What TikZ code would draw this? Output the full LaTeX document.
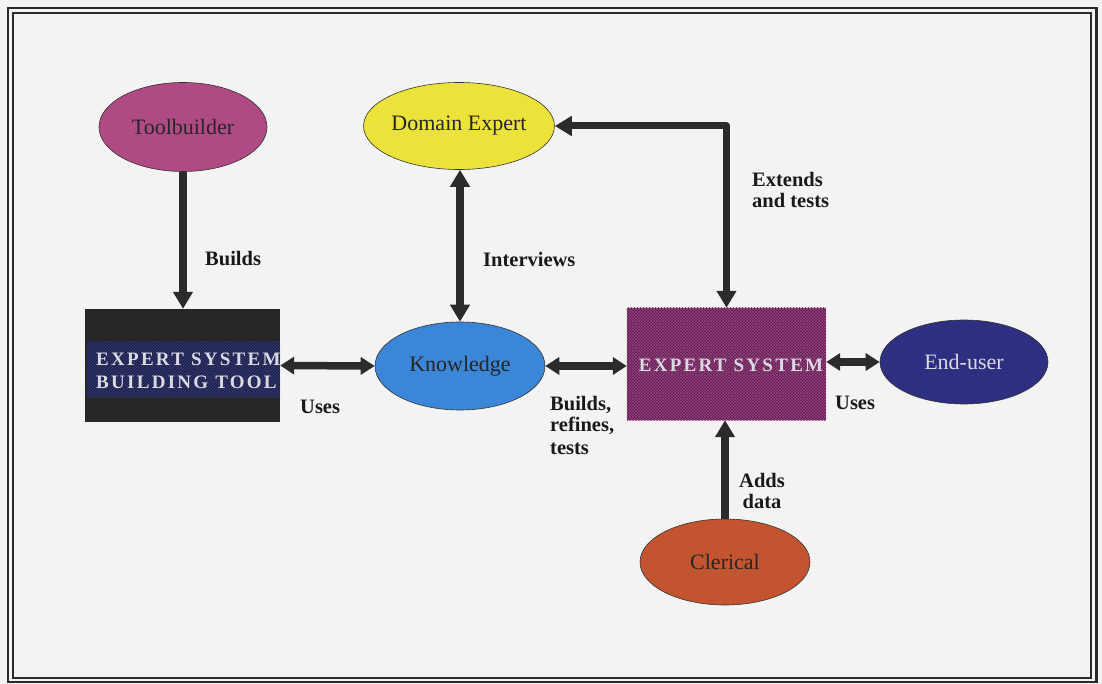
\documentclass[tikz,border=0pt]{standalone}
\usepackage{fontspec}
\setmainfont{Liberation Serif}
\newfontfamily\capsfont[LetterSpace=12]{Liberation Serif}
\usetikzlibrary{arrows.meta,shapes.geometric,patterns}

\definecolor{paper}{HTML}{F3F3F3}
\definecolor{framecol}{HTML}{2A2A2A}
\definecolor{linkcol}{HTML}{2B2B2B}
\definecolor{toolcol}{HTML}{B04A84}
\definecolor{domcol}{HTML}{ECE33A}
\definecolor{knowcol}{HTML}{3B86D6}
\definecolor{endcol}{HTML}{2E2F80}
\definecolor{clercol}{HTML}{C2552F}
\definecolor{esbtcol}{HTML}{262626}
\definecolor{esbtband}{HTML}{1E2150}
\definecolor{esbtstripe}{HTML}{3C4274}
\definecolor{escol}{HTML}{5A1C4A}
\definecolor{esstripe}{HTML}{9A4484}
\definecolor{boxtext}{HTML}{DADAE2}

\tikzset{
  role/.style={ellipse, draw=black!80, line width=0.6pt, minimum width=168pt,
    minimum height=88pt, inner sep=0pt, text=black!85,
    font=\fontsize{22}{24}\selectfont},
  toolbox/.style={rectangle, inner sep=0pt, text=boxtext, align=left,
    font=\capsfont\bfseries\fontsize{19}{23}\selectfont},
  label/.style={font=\bfseries\fontsize{20.5}{21}\selectfont, text=black!90,
    inner sep=0pt, align=left},
  link/.style={line width=7.5pt, draw=linkcol, -{Triangle[length=17pt,width=19pt]}},
  both/.style={line width=7.5pt, draw=linkcol,
    {Triangle[length=17pt,width=19pt]}-{Triangle[length=17pt,width=19pt]}},
  bothshort/.style={line width=7.5pt, draw=linkcol,
    {Triangle[length=14pt,width=17pt]}-{Triangle[length=14pt,width=17pt]}}
}

\begin{document}
\begin{tikzpicture}[x=1pt,y=-1pt]
  % page and frame
  \fill[paper] (0,0) rectangle (1102,684);
  \useasboundingbox (0,0) rectangle (1102,684);
  \draw[framecol, line width=2.8pt] (8,8) rectangle (1096.5,682);
  \draw[framecol, line width=1.1pt] (13,13) rectangle (1091,678);

  % people
  \node[role, fill=toolcol, minimum height=89pt] (tool) at (183,127) {Toolbuilder};
  \node[role, fill=domcol, minimum height=87pt] (dom) at (459,126) {Domain Expert};
  \node[role, fill=knowcol, minimum width=170pt] (know) at (460,366) {Knowledge};
  \node[role, fill=endcol, text=boxtext, minimum height=84pt] (end) at (964,362) {End-user};
  \node[role, fill=clercol, minimum width=170pt, minimum height=86pt] (cler) at (725,562) {Clerical};

  % building tool box with its hatched band
  \node[toolbox, fill=esbtcol, minimum width=195pt, minimum height=113pt] (esbt) at (182.5,365.5) {};
  \fill[esbtband] (87,341) rectangle (280,397);
  \fill[pattern=north east lines, pattern color=esbtstripe] (87,341) rectangle (280,397);
  \node[toolbox, anchor=west] (esbttext) at (96,371) {EXPERT SYSTEM\\BUILDING TOOL};

  % expert system box, cross-hatched
  \node[toolbox, fill=escol, minimum width=199pt, minimum height=112pt] (es) at (726.5,364) {};
  \fill[pattern=crosshatch, pattern color=esstripe] (es.south west) rectangle (es.north east);
  \node[toolbox] (estext) at (731,365) {EXPERT SYSTEM};

  % connectors
  \draw[link] (tool.south) -- (tool.south |- esbt.north);
  \draw[both] (know.north) -- (know.north |- dom.south);
  \draw[bothshort] (esbt.east) -- (know.west);
  \draw[bothshort] (know.east) -- (know.east -| es.west);
  \draw[bothshort] (es.east |- end.west) -- (end.west);
  \draw[link] (cler.north) -- (cler.north |- es.south);
  \coordinate (bend) at (es.north |- dom.east);
  \draw[line width=7pt, draw=linkcol, line join=round,
        {Triangle[length=17pt,width=19pt]}-{Triangle[length=17pt,width=19pt]}]
        (dom.east) -- (bend) -- (es.north);

  % connector labels
  \node[label, anchor=west] (lbuilds) at (205,259) {Builds};
  \node[label, anchor=west] (linterv) at (483,259) {Interviews};
  \node[label, anchor=west] (lext) at (752,190) {Extends\\and tests};
  \node[label, anchor=west] (luses1) at (300,407) {Uses};
  \node[label, anchor=north west, align=left] (lrefine) at (550,396)
        {Builds,\\refines,\\[2pt]tests};
  \node[label, anchor=west] (luses2) at (835,403) {Uses};
  \node[label, align=center] (ladds) at (762,491) {Adds\\data};
\end{tikzpicture}
\end{document}
